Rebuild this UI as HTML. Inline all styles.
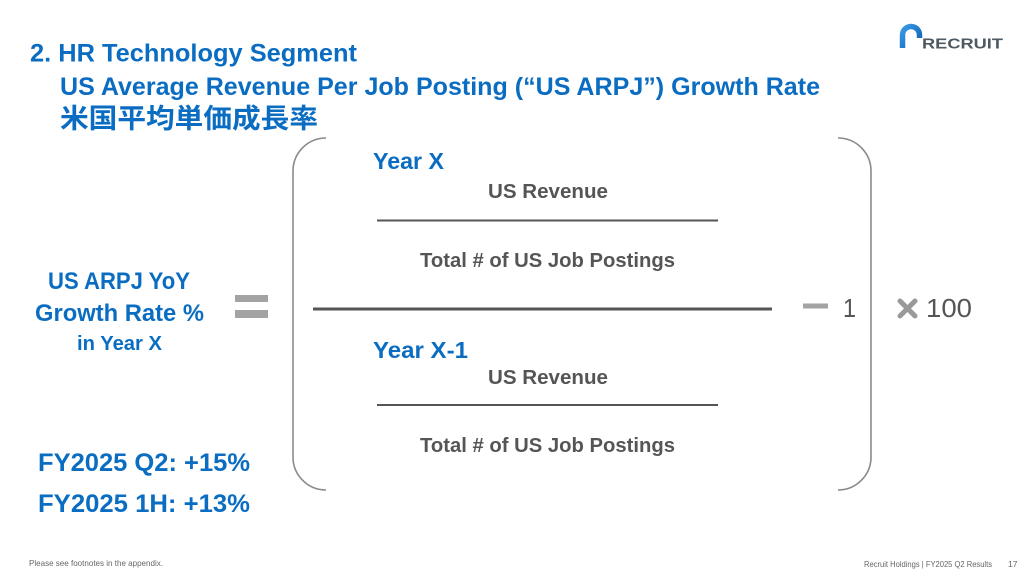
<!DOCTYPE html>
<html>
<head>
<meta charset="utf-8">
<style>
html,body{margin:0;padding:0;background:#fff;}
svg{display:block;}
text{font-family:"Liberation Sans","Noto Sans CJK JP",sans-serif;}
</style>
</head>
<body>
<svg width="1024" height="577" viewBox="0 0 1024 577" xmlns="http://www.w3.org/2000/svg">
  <defs>
    <linearGradient id="lg" x1="0" y1="0" x2="1" y2="1">
      <stop offset="0" stop-color="#3a9ae6"/>
      <stop offset="1" stop-color="#0b5fb3"/>
    </linearGradient>
  </defs>
  <rect width="1024" height="577" fill="#fff"/>

  <!-- Title -->
  <g fill="#0b6dc2" font-weight="bold">
    <text x="30" y="61.5" font-size="25" textLength="327" lengthAdjust="spacingAndGlyphs">2. HR Technology Segment</text>
    <text x="60" y="95" font-size="25" textLength="760" lengthAdjust="spacingAndGlyphs">US Average Revenue Per Job Posting (“US ARPJ”) Growth Rate</text>
    <text x="60" y="128" font-size="27" textLength="258" lengthAdjust="spacingAndGlyphs" style="font-family:'Noto Sans CJK JP',sans-serif">米国平均単価成長率</text>
  </g>

  <!-- Logo -->
  <path d="M902.5,48 V35 A8.5,8.5 0 0 1 919.5,35 V38" fill="none" stroke="url(#lg)" stroke-width="5.5"/>
  <text x="922" y="48.5" font-size="14.5" font-weight="bold" fill="#4d5963" textLength="81" lengthAdjust="spacingAndGlyphs">RECRUIT</text>

  <!-- Left label -->
  <g fill="#0b6dc2" font-weight="bold">
    <text x="48" y="289" font-size="24" textLength="142" lengthAdjust="spacingAndGlyphs">US ARPJ YoY</text>
    <text x="35" y="321" font-size="24" textLength="169" lengthAdjust="spacingAndGlyphs">Growth Rate %</text>
    <text x="77" y="350" font-size="20" textLength="85" lengthAdjust="spacingAndGlyphs">in Year X</text>
  </g>

  <!-- Equals -->
  <rect x="235" y="295" width="33" height="7" fill="#a3a3a3"/>
  <rect x="235" y="310" width="33" height="8" fill="#a3a3a3"/>

  <!-- Brackets -->
  <path d="M326,138 A33,33 0 0 0 293,171 L293,457 A33,33 0 0 0 326,490" fill="none" stroke="#8a8a8a" stroke-width="1.6"/>
  <path d="M838,138 A33,33 0 0 1 871,171 L871,457 A33,33 0 0 1 838,490" fill="none" stroke="#8a8a8a" stroke-width="1.6"/>

  <!-- Upper fraction -->
  <text x="373" y="169" font-size="23" font-weight="bold" fill="#0b6dc2" textLength="71" lengthAdjust="spacingAndGlyphs">Year X</text>
  <g fill="#555" font-weight="bold" font-size="20">
    <text x="488" y="198" textLength="120" lengthAdjust="spacingAndGlyphs">US Revenue</text>
    <text x="420" y="267" textLength="255" lengthAdjust="spacingAndGlyphs">Total # of US Job Postings</text>
  </g>
  <rect x="377" y="219.5" width="341" height="2" fill="#555"/>

  <!-- Main line -->
  <rect x="313" y="307.5" width="459" height="3" fill="#555"/>

  <!-- Lower fraction -->
  <text x="373" y="358" font-size="23" font-weight="bold" fill="#0b6dc2" textLength="95" lengthAdjust="spacingAndGlyphs">Year X-1</text>
  <g fill="#555" font-weight="bold" font-size="20">
    <text x="488" y="384" textLength="120" lengthAdjust="spacingAndGlyphs">US Revenue</text>
    <text x="420" y="452" textLength="255" lengthAdjust="spacingAndGlyphs">Total # of US Job Postings</text>
  </g>
  <rect x="377" y="404" width="341" height="2" fill="#555"/>

  <!-- minus 1 -->
  <rect x="803" y="303.5" width="25" height="5" fill="#a3a3a3"/>
  <text x="843" y="317" font-size="26" fill="#555" textLength="13" lengthAdjust="spacingAndGlyphs">1</text>

  <!-- x 100 -->
  <path d="M900,301 L915,316 M915,301 L900,316" stroke="#999" stroke-width="5" stroke-linecap="round"/>
  <text x="926" y="317" font-size="26" fill="#555" textLength="46" lengthAdjust="spacingAndGlyphs">100</text>

  <!-- Results -->
  <g fill="#0b6dc2" font-weight="bold" font-size="25">
    <text x="38" y="471" textLength="212" lengthAdjust="spacingAndGlyphs">FY2025 Q2: +15%</text>
    <text x="38" y="512" textLength="212" lengthAdjust="spacingAndGlyphs">FY2025 1H: +13%</text>
  </g>

  <!-- Footers -->
  <text x="29" y="566" font-size="8.5" fill="#666" textLength="134" lengthAdjust="spacingAndGlyphs">Please see footnotes in the appendix.</text>
  <text x="864" y="567" font-size="8.5" fill="#666" textLength="128" lengthAdjust="spacingAndGlyphs">Recruit Holdings | FY2025 Q2  Results</text>
  <text x="1008" y="567" font-size="8.5" fill="#666">17</text>
</svg>
</body>
</html>
